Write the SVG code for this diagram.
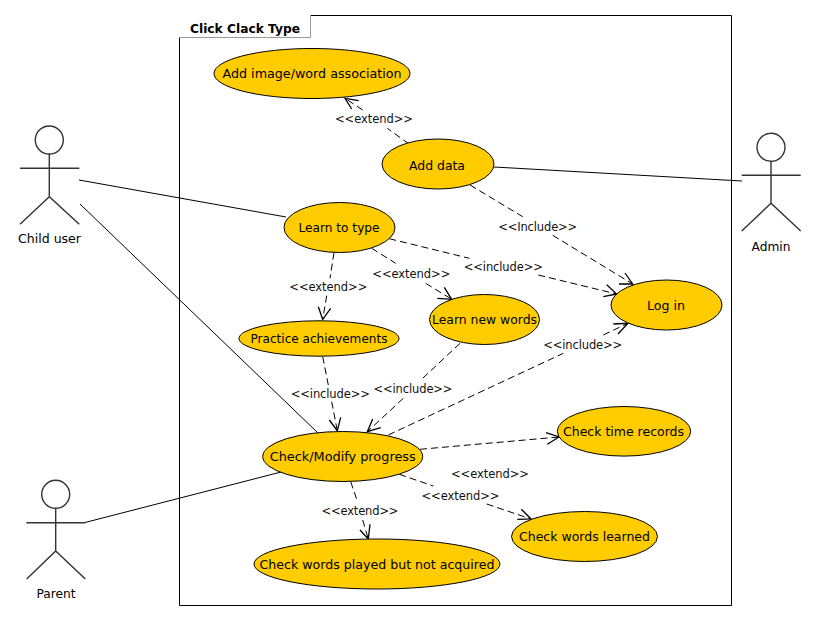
<svg xmlns="http://www.w3.org/2000/svg" width="817" height="621" viewBox="0 0 817 621">
<style>
text{font-family:"DejaVu Sans","Liberation Sans",sans-serif;font-size:12.5px;fill:#000;text-anchor:middle}
.uc{fill:#ffcc00;stroke:#000;stroke-width:1}
.lbl{font-size:11.500px;fill:#111}
.solid{fill:none;stroke:#000;stroke-width:1}
.dash{fill:none;stroke:#000;stroke-width:1;stroke-dasharray:7 4}
.head{fill:none;stroke:#000;stroke-width:1.300}
.actor{fill:none;stroke:#333;stroke-width:1.400}
</style>
<rect width="817" height="621" fill="#fff"/>
<g id="frame">
<path d="M310.500 15.500H731.500V605.500H179.500V37.500" fill="none" stroke="#000"/>
<path d="M179.500 37.500H310.500V15.500" fill="none" stroke="#999"/>
<text x="245" y="33" style="font-weight:bold;font-size:13px" textLength="110" lengthAdjust="spacingAndGlyphs">Click Clack Type</text>
</g>
<g id="connectors">
<path class="solid" d="M79 180L286 217M80 204L318 433M85 522.500L285 471M494 167L742 181"/>
<path class="dash" d="M409 144L387.300 128.300M362.700 110L345 98.300"/>
<path class="dash" d="M470 185L522.700 216.700M552.700 235.300L632.700 284"/>
<path class="dash" d="M334 252.700L330 278.300M326.700 295.700L322.700 319.300"/>
<path class="dash" d="M371.700 248.300L395.700 263.300M425.700 283.300L451.700 299.300"/>
<path class="dash" d="M389.300 238.700L469.300 258.300M538.300 275L616.700 294"/>
<path class="dash" d="M322.700 356.700L328.300 385M331.700 401.700L337.300 430.700"/>
<path class="dash" d="M460 343.300L422.700 378.300M403.300 398.300L367.300 431.700"/>
<path class="dash" d="M388.300 435L563.300 353.300M603.300 335L628 323.300"/>
<path class="dash" d="M420 449.300L559 437"/>
<path class="dash" d="M399.300 474.300L433.300 486M486.700 504L531 519"/>
<path class="dash" d="M350.700 481.700L357.300 501M362.700 520L368.300 539"/>
<path class="head" d="M358.700 100.700L345 98.300L351.700 109"/>
<path class="head" d="M625 273L632.700 284L619 284"/>
<path class="head" d="M318.300 306.700L322.700 319.300L330.700 308.300"/>
<path class="head" d="M444.300 287.300L451.700 299.300L437.300 298.300"/>
<path class="head" d="M606.700 284.700L616.700 294L603.300 296.700"/>
<path class="head" d="M329.300 420L337.300 430.700L340.700 417.300"/>
<path class="head" d="M372.700 419L367.300 431.700L380.700 427.700"/>
<path class="head" d="M613.300 324L628 323.300L618 334"/>
<path class="head" d="M546 432.700L559 437L547.300 444.300"/>
<path class="head" d="M521.300 509.300L531 519L517.300 519.300"/>
<path class="head" d="M360 530L368.300 539L370 524.300"/>
</g>
<g id="label-extend-1"><text class="lbl" x="374" y="123" textLength="78">&lt;&lt;extend&gt;&gt;</text></g>
<g id="label-include-1"><text class="lbl" x="537.700" y="231" textLength="79">&lt;&lt;Include&gt;&gt;</text></g>
<g id="label-include-2"><text class="lbl" x="503.300" y="271" textLength="79">&lt;&lt;include&gt;&gt;</text></g>
<g id="label-extend-2"><text class="lbl" x="411.300" y="278" textLength="78">&lt;&lt;extend&gt;&gt;</text></g>
<g id="label-extend-3"><text class="lbl" x="328.300" y="291" textLength="78">&lt;&lt;extend&gt;&gt;</text></g>
<g id="label-include-3"><text class="lbl" x="582.700" y="349" textLength="79">&lt;&lt;include&gt;&gt;</text></g>
<g id="label-include-4"><text class="lbl" x="413" y="393" textLength="79">&lt;&lt;include&gt;&gt;</text></g>
<g id="label-include-5"><text class="lbl" x="330.300" y="398" textLength="79">&lt;&lt;include&gt;&gt;</text></g>
<g id="label-extend-4"><text class="lbl" x="490" y="478" textLength="78">&lt;&lt;extend&gt;&gt;</text></g>
<g id="label-extend-5"><text class="lbl" x="460.500" y="500" textLength="78">&lt;&lt;extend&gt;&gt;</text></g>
<g id="label-extend-6"><text class="lbl" x="360" y="515" textLength="77">&lt;&lt;extend&gt;&gt;</text></g>
<g id="uc-add-image"><ellipse class="uc" cx="312" cy="73.500" rx="98" ry="25"/><text x="312" y="78" textLength="179" lengthAdjust="spacingAndGlyphs">Add image/word association</text></g>
<g id="uc-add-data"><ellipse class="uc" cx="438" cy="164" rx="56" ry="25"/><text x="437" y="170" textLength="56" lengthAdjust="spacingAndGlyphs">Add data</text></g>
<g id="uc-learn-type"><ellipse class="uc" cx="339.500" cy="227.500" rx="55.500" ry="25"/><text x="339" y="232" textLength="81" lengthAdjust="spacingAndGlyphs">Learn to type</text></g>
<g id="uc-practice"><ellipse class="uc" cx="319" cy="338.500" rx="80" ry="17.700"/><text x="319" y="343" textLength="137" lengthAdjust="spacingAndGlyphs">Practice achievements</text></g>
<g id="uc-learn-words"><ellipse class="uc" cx="484.500" cy="319.500" rx="55" ry="25"/><text x="484.500" y="324" textLength="105" lengthAdjust="spacingAndGlyphs">Learn new words</text></g>
<g id="uc-login"><ellipse class="uc" cx="666.500" cy="305" rx="55.500" ry="25"/><text x="666" y="310" textLength="38" lengthAdjust="spacingAndGlyphs">Log in</text></g>
<g id="uc-check-modify"><ellipse class="uc" cx="342.700" cy="456.500" rx="80" ry="25"/><text x="342.700" y="461" textLength="146" lengthAdjust="spacingAndGlyphs">Check/Modify progress</text></g>
<g id="uc-check-time"><ellipse class="uc" cx="624" cy="431.300" rx="66.700" ry="24.800"/><text x="623.500" y="436" textLength="121" lengthAdjust="spacingAndGlyphs">Check time records</text></g>
<g id="uc-check-learned"><ellipse class="uc" cx="584.500" cy="536.500" rx="73" ry="25"/><text x="584.500" y="541" textLength="131" lengthAdjust="spacingAndGlyphs">Check words learned</text></g>
<g id="uc-check-played"><ellipse class="uc" cx="377" cy="564" rx="123" ry="25"/><text x="377" y="569" textLength="235" lengthAdjust="spacingAndGlyphs">Check words played but not acquired</text></g>
<g id="actor-child"><circle class="actor" cx="49.300" cy="140" r="14"/><path class="actor" d="M49.300 154V196.700M20 168.300H79.300M20 224.300L49.300 196.700L79.300 224.300"/><text x="49.500" y="243" textLength="63" lengthAdjust="spacingAndGlyphs">Child user</text></g>
<g id="actor-admin"><circle class="actor" cx="771" cy="147.300" r="14"/><path class="actor" d="M771 161.300V203.300M741.700 175.300H800.700M741.700 231L771 203.300L800.700 231"/><text x="771" y="251" textLength="39" lengthAdjust="spacingAndGlyphs">Admin</text></g>
<g id="actor-parent"><circle class="actor" cx="55.700" cy="494.300" r="14"/><path class="actor" d="M55.700 508.300V551M26.300 522.700H85M26.700 579L55.700 551L85.300 579"/><text x="56" y="598" textLength="39" lengthAdjust="spacingAndGlyphs">Parent</text></g>
</svg>
